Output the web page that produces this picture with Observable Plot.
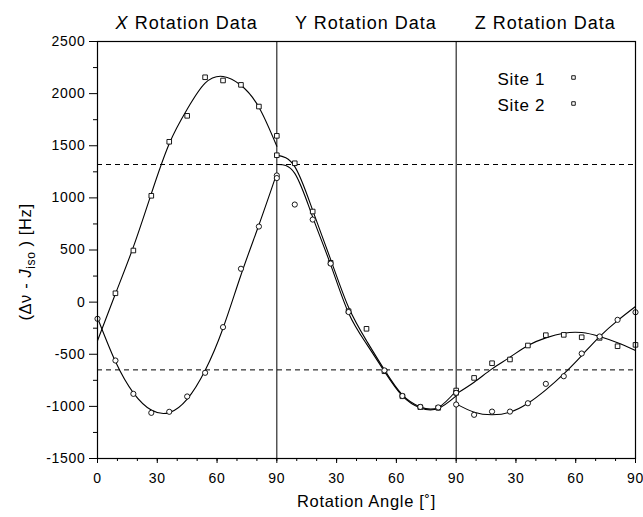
<!DOCTYPE html>
<html><head><meta charset="utf-8">
<script src="https://cdn.jsdelivr.net/npm/d3@7"></script>
<script src="https://cdn.jsdelivr.net/npm/@observablehq/plot@0.6"></script>
<style>body{margin:0;background:#fff}</style>
</head><body><div id="chart"></div>
<script>
// ---- data ----
const angles = [0, 9, 18, 27, 36, 45, 54, 63, 72, 81, 90];
const segments = ["X", "Y", "Z"];
const segmentTitle = " Rotation Data";
const siteNames = ["Site 1", "Site 2"];
const xTicks = [0, 30, 60, 90, 120, 150, 180, 210, 240, 270];
const xMinorTicks = d3.range(0, 271, 10);
const yTicks = [-1500, -1000, -500, 0, 500, 1000, 1500, 2000, 2500];
const yMinorTicks = [-1250, -750, -250, 250, 750, 1250, 1750, 2250];
const dashedLevels = [1320, -650];
const xLabel = "Rotation Angle [˚]";

// measured points
const site1X = [null, 85, 495, 1020, 1538, 1787, 2157, 2126, 2084, 1876, 1595];
const site2X = [-160, -560, -880, -1062, -1052, -905, -678, -240, 320, 725, 1215];
const site1Y = [1409, 1332, 869, 377, -87, -256, -663, -903, -1008, -1014, -848];
const site2Y = [1190, 936, 792, 370, -95, null, -655, -900, -1005, -1010, -870];
const site1Z = [-870, -727, -586, -550, -416, -317, -314, -337, -343, -423, -410];
const site2Z = [-982, -1081, -1050, -1050, -970, -784, -711, -493, -330, -170, -97];

// fitted curves (at the same angles)
const fit1X = [-370, 80, 530, 1040, 1520, 1850, 2100, 2165, 2080, 1870, 1495];
const fit2X = [-150, -570, -870, -1035, -1060, -930, -655, -250, 260, 740, 1235];
const fit1Y = [1410, 1300, 880, 410, -50, -370, -650, -890, -1005, -1010, -850];
const fit2Y = [1320, 1235, 815, 360, -105, -400, -665, -900, -1015, -1020, -900];
const fit1Z = [-880, -768, -640, -528, -416, -343, -298, -292, -330, -390, -464];
const fit2Z = [-976, -1056, -1081, -1056, -970, -841, -688, -512, -330, -177, -42];

// ---- tables ----
const measured = [[site1X, site2X], [site1Y, site2Y], [site1Z, site2Z]];
const fits = [[fit1X, fit2X], [fit1Y, fit2Y], [fit1Z, fit2Z]];
const points = [], curves = [];
segments.forEach((seg, s) => {
  [0, 1].forEach(k => {
    angles.forEach((a, i) => {
      const v = measured[s][k][i];
      if (v != null) points.push({x: s * 90 + a, y: v, site: siteNames[k]});
      curves.push({x: s * 90 + a, y: fits[s][k][i], key: seg + k});
    });
  });
});

const font = "Arial, 'Liberation Sans', Helvetica, sans-serif";
const fmt = d => d === 0 ? "0" : String(d % 90 === 0 ? 90 : d % 90);

const plot = Plot.plot({
  width: 643, height: 517,
  marginLeft: 97, marginRight: 8, marginTop: 41, marginBottom: 59,
  x: {domain: [0, 270]},
  y: {domain: [-1500, 2500]},
  style: {fontFamily: font, fontSize: "14px", letterSpacing: "0.7px", color: "#000", background: "#fff"},
  marks: [
    Plot.ruleY(dashedLevels, {stroke: "#000", strokeWidth: 1, strokeDasharray: "5,4"}),
    Plot.ruleX(xTicks.filter(d => d > 0 && d < 270 && d % 90 === 0), {stroke: "#000", strokeWidth: 1}),
    Plot.line(curves, {x: "x", y: "y", z: "key", curve: "natural", stroke: "#000", strokeWidth: 1.1}),
    Plot.dot(points.filter(d => d.site === siteNames[0]), {x: "x", y: "y", symbol: "square", r: 2.6, stroke: "#000", fill: "#fff", strokeWidth: 0.9}),
    Plot.dot(points.filter(d => d.site === siteNames[1]), {x: "x", y: "y", symbol: "circle", r: 2.6, stroke: "#000", fill: "#fff", strokeWidth: 0.9}),
    Plot.frame({stroke: "#000", strokeWidth: 1.2}),
    Plot.axisX({ticks: xMinorTicks, tickSize: 3, tickFormat: () => "", label: null}),
    Plot.axisX({ticks: xTicks, tickSize: 5, tickPadding: 10, tickFormat: fmt, label: null, fontSize: 14}),
    Plot.axisY({ticks: yMinorTicks, tickSize: 4, tickFormat: () => "", label: null}),
    Plot.axisY({ticks: yTicks, tickSize: 8, tickPadding: 4, tickFormat: d => String(d), label: null, fontSize: 14}),
    // legend
    Plot.text([siteNames[0]], {frameAnchor: "top-right", dx: -138, dy: 31, textAnchor: "start", fontSize: 17}),
    Plot.text([siteNames[1]], {frameAnchor: "top-right", dx: -138, dy: 57, textAnchor: "start", fontSize: 17}),
    Plot.dot([siteNames[0]], {frameAnchor: "top-right", dx: -62, dy: 36, symbol: "square", r: 2, stroke: "#000", fill: "#fff", strokeWidth: 0.9}),
    Plot.dot([siteNames[1]], {frameAnchor: "top-right", dx: -62, dy: 62, symbol: "square", r: 2, stroke: "#000", fill: "#fff", strokeWidth: 0.9}),
    Plot.text([xLabel], {frameAnchor: "bottom", dy: 48, fontSize: 16.5})
  ]
});

const svg = d3.select(plot);
const xs = plot.scale("x");
segments.forEach((seg, s) => {
  const t = svg.append("text")
    .attr("x", xs.apply(s * 90 + 45)).attr("y", 28.5)
    .attr("text-anchor", "middle")
    .style("font-size", "18px").style("letter-spacing", "1px").style("font-family", font);
  t.append("tspan").style("font-style", s === 0 ? "italic" : "normal").text(seg);
  t.append("tspan").text(segmentTitle);
});
const yl = svg.append("text")
  .attr("transform", "translate(31,262) rotate(-90)")
  .attr("text-anchor", "middle")
  .style("font-size", "16.5px").style("letter-spacing", "0.6px").style("font-family", font);
yl.append("tspan").text("(Δν - ");
yl.append("tspan").style("font-style", "italic").text("J");
yl.append("tspan").attr("dy", 4).style("font-size", "12px").text("iso");
yl.append("tspan").attr("dy", -4).text(" ) [Hz]");

document.getElementById("chart").appendChild(plot);
</script>
</body></html>
